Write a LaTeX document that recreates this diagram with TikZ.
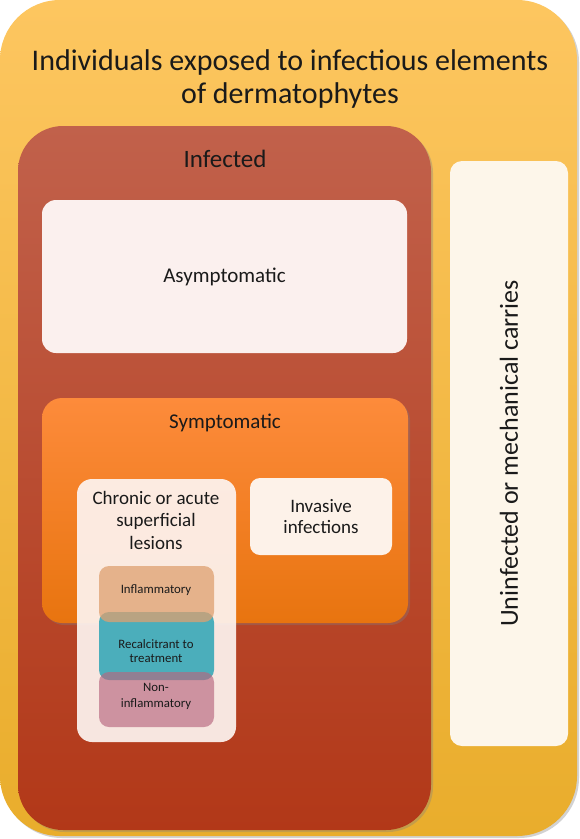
\documentclass[tikz,border=0pt]{standalone}
\usepackage{fontspec}
\setmainfont{Carlito}
\usetikzlibrary{shadows}
\definecolor{outerT}{HTML}{FDC660}
\definecolor{outerB}{HTML}{E9AD2C}
\definecolor{infT}{HTML}{C1614B}
\definecolor{infB}{HTML}{B23818}
\definecolor{symT}{HTML}{FD8B3B}
\definecolor{symB}{HTML}{E8740F}
\definecolor{asym}{HTML}{FBF0EE}
\definecolor{cream}{HTML}{FDF6EA}
\definecolor{invas}{HTML}{FDF2E9}
\definecolor{chron}{HTML}{FDF3EF}
\definecolor{inflam}{HTML}{DEA06F}
\definecolor{recal}{HTML}{4BAEBB}
\definecolor{noninf}{HTML}{B8667E}
\definecolor{txt}{HTML}{1A1A1A}
\tikzset{
  panel/.style={anchor=north west, inner sep=0pt, outer sep=0pt},
  shade1/.style={drop shadow={shadow xshift=2pt, shadow yshift=-2pt, opacity=0.35}},
  lbl/.style={text=txt, align=center, inner sep=0pt},
}
\begin{document}
\begin{tikzpicture}[x=1pt,y=-1pt]
\useasboundingbox (0,0) rectangle (580,839);
\fill[white] (0,0) rectangle (580,839);
% outer
\node[panel, shade1, rounded corners=60pt, top color=outerT, bottom color=outerB,
  minimum width=577pt, minimum height=836pt] (outer) at (0,0) {};
\node[lbl, font=\fontsize{30}{33}\selectfont] (title) at (290,79)
  {Individuals exposed to infectious elements\\of dermatophytes};
% infected
\node[panel, shade1, rounded corners=45pt, top color=infT, bottom color=infB,
  minimum width=413pt, minimum height=704pt] (infected) at (18,126) {};
\node[lbl, font=\fontsize{25}{28}\selectfont] (inftxt) at (225,159) {Infected};
% asymptomatic
\node[panel, rounded corners=14pt, fill=asym,
  minimum width=365pt, minimum height=153pt] (asymp) at (42,200) {};
\node[lbl, font=\fontsize{21}{24}\selectfont] at (asymp.center) {Asymptomatic};
% symptomatic
\node[panel, shade1, rounded corners=20pt, top color=symT, bottom color=symB,
  minimum width=366pt, minimum height=225pt] (symp) at (42,398) {};
\node[lbl, font=\fontsize{21}{24}\selectfont] (symtxt) at (225,423) {Symptomatic};
% chronic
\node[panel, rounded corners=15pt, fill=chron, fill opacity=0.93,
  minimum width=159pt, minimum height=263pt] (chronic) at (77,479) {};
\node[lbl, font=\fontsize{19}{22.5}\selectfont] (chrtxt) at (156,520)
  {Chronic or acute\\superficial\\lesions};
% invasive
\node[panel, rounded corners=10pt, fill=invas,
  minimum width=142pt, minimum height=77pt] (invas) at (250,478) {};
\node[lbl, font=\fontsize{19}{21}\selectfont] at (invas.center) {Invasive\\infections};
% inner three
\node[panel, rounded corners=10pt, fill=recal,
  minimum width=115pt, minimum height=68pt] (recal) at (99,612) {};
\node[panel, rounded corners=10pt, fill=inflam, fill opacity=0.75,
  minimum width=115pt, minimum height=56pt] (infl) at (99,566) {};
\node[panel, rounded corners=10pt, fill=noninf, fill opacity=0.65,
  minimum width=115pt, minimum height=55pt] (noni) at (99,672) {};
\node[lbl, font=\fontsize{12.8}{15}\selectfont] at (156,590) {Inflammatory};
\node[lbl, font=\fontsize{12.8}{14}\selectfont] at (156,651) {Recalcitrant to\\treatment};
\node[lbl, font=\fontsize{12.8}{16}\selectfont] at (156,696) {Non-\\inflammatory};
% uninfected
\node[panel, rounded corners=12pt, fill=cream,
  minimum width=118pt, minimum height=585pt] (unin) at (450,161) {};
\node[lbl, rotate=90, font=\fontsize{26}{30}\selectfont] at (unin.center)
  {Uninfected or mechanical carries};
\end{tikzpicture}
\end{document}
